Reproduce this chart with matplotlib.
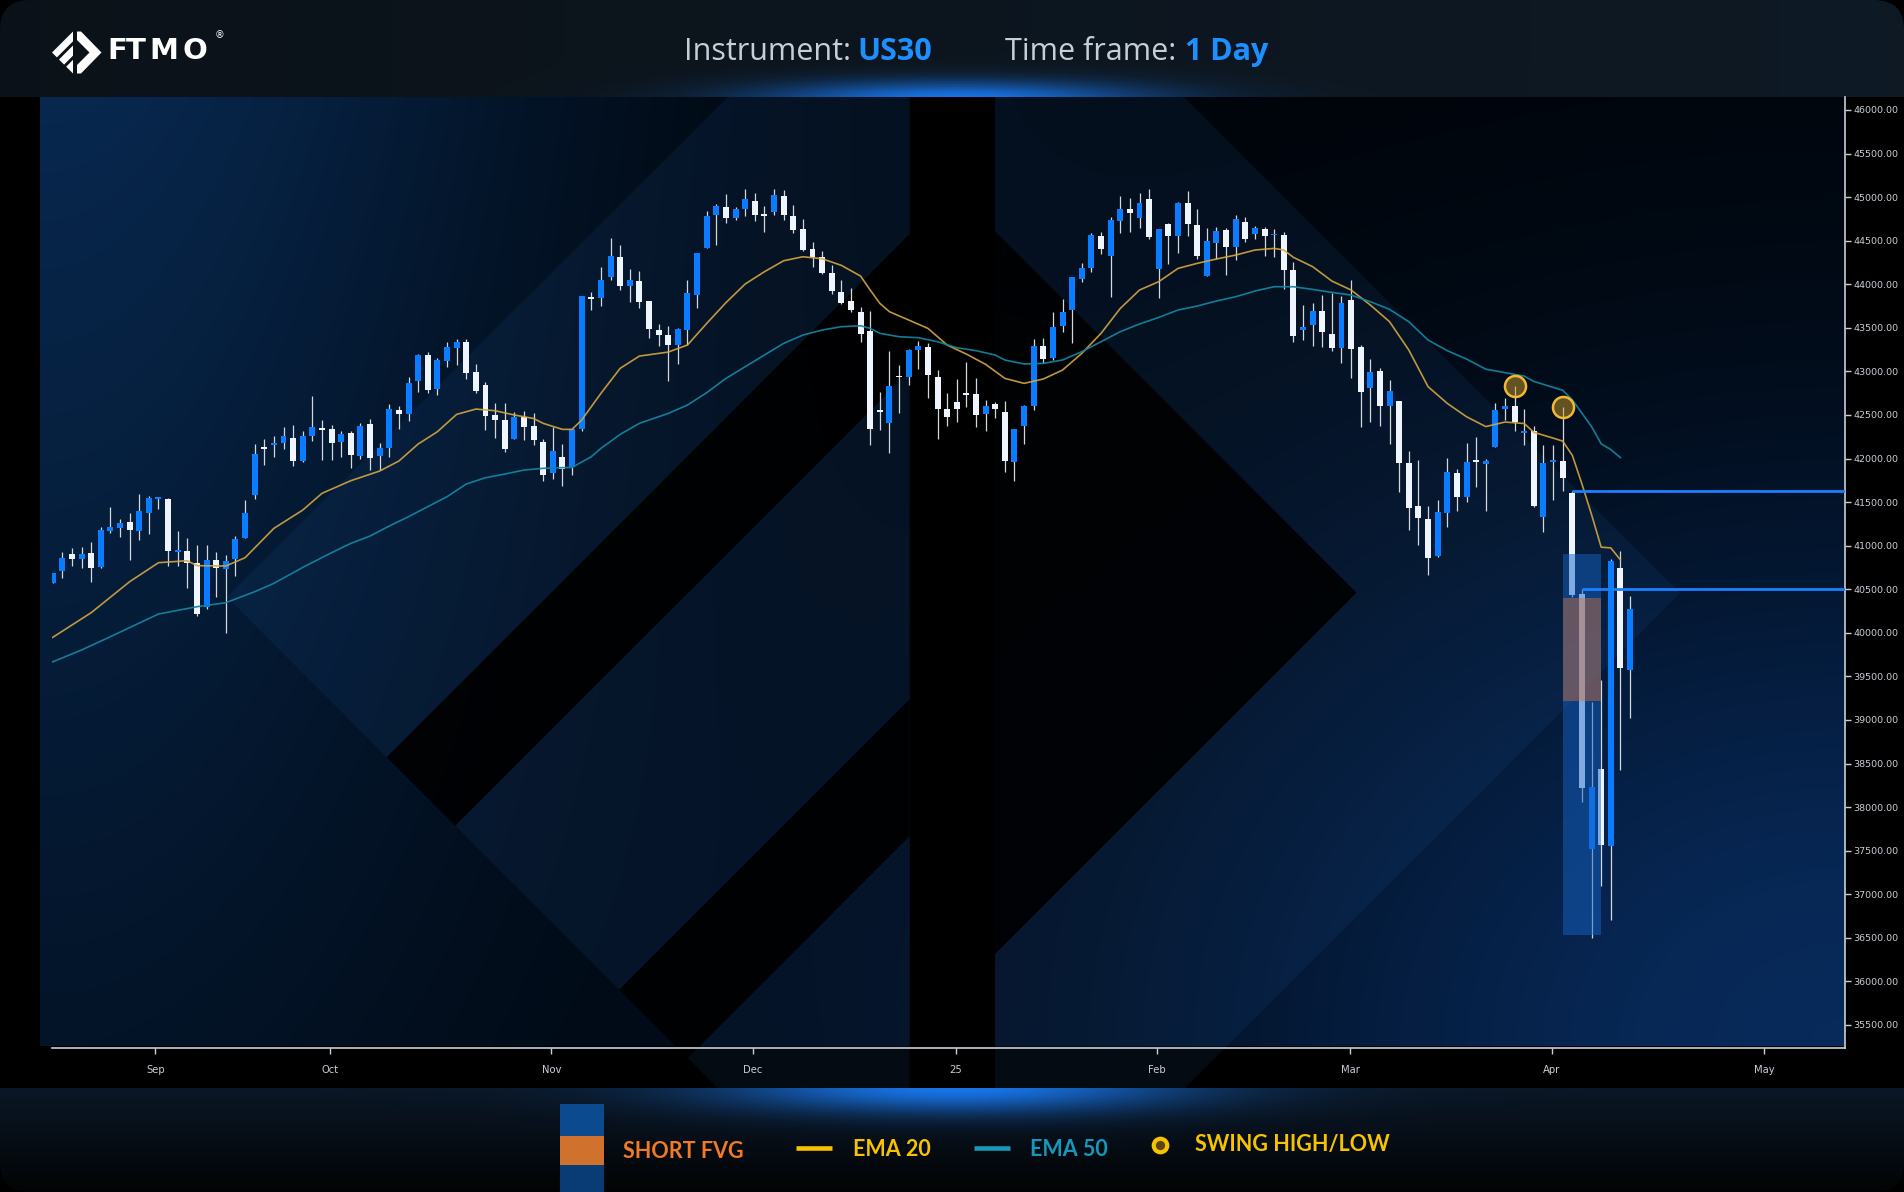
import numpy as np
import matplotlib.pyplot as plt
from matplotlib.patches import Rectangle, Polygon, FancyBboxPatch

# ---- candle data (US30, daily) ----
opens = [40575, 40713, 40904, 40851, 40916, 40755, 41168, 41207, 41272, 41172,
         41379, 41539, 41536, 40931, 40939, 40801, 40300, 40836, 40736, 40847,
         41092, 41585, 42132, 42159, 42182, 42239, 41975, 42262, 42350, 42339,
         42194, 42293, 42033, 42396, 42033, 42125, 42557, 42515, 42890, 43188,
         42802, 43119, 43268, 43337, 42993, 42844, 42500, 42442, 42228, 42477,
         42373, 42189, 41837, 42017, 41899, 42339, 43846, 43846, 44087, 44312,
         43983, 44037, 43807, 43475, 43417, 43306, 43478, 43880, 44420, 44798,
         44886, 44764, 44867, 44955, 44798, 44833, 45012, 44783, 44634, 44404,
         44312, 44129, 43911, 43807, 43681, 43467, 42560, 42412, 42943, 42939,
         43245, 43280, 42936, 42568, 42649, 42741, 42741, 42515, 42626, 42534,
         41964, 42377, 42607, 43291, 43154, 43524, 43708, 44064, 44190, 44553,
         44328, 44729, 44863, 44764, 44978, 44179, 44691, 44557, 44932, 44680,
         44098, 44477, 44622, 44431, 44714, 44580, 44634, 44561, 44565, 44163,
         43478, 43536, 43693, 43429, 43272, 43819, 43280, 42813, 43004, 42606,
         42660, 41949, 41456, 41306, 40886, 41379, 41834, 41563, 41972, 41941,
         42136, 42573, 42603, 42297, 42316, 41333, 41960, 41971, 41602, 40443,
         37522, 38436, 37557, 40742, 39578]
highs = [40690, 40923, 40969, 40981, 41042, 41210, 41444, 41306, 41375, 41593,
         41570, 41560, 41543, 41168, 41088, 41008, 41008, 40927, 40893, 41111,
         41520, 42167, 42224, 42259, 42362, 42385, 42316, 42721, 42442, 42385,
         42320, 42316, 42408, 42454, 42178, 42626, 42603, 42936, 43200, 43222,
         43154, 43337, 43372, 43372, 43085, 42878, 42637, 42637, 42534, 42546,
         42523, 42224, 42362, 42166, 42335, 43865, 43911, 44194, 44530, 44450,
         44178, 44152, 43807, 43544, 43521, 43498, 44048, 44358, 44840, 44921,
         45035, 44886, 45093, 45047, 44898, 45093, 45081, 44909, 44748, 44485,
         44381, 44221, 44048, 43957, 43739, 43693, 42763, 43234, 43073, 43257,
         43349, 43326, 43016, 42752, 42913, 43108, 42924, 42672, 42653, 42660,
         42339, 42614, 43372, 43383, 43682, 43830, 44083, 44244, 44588, 44599,
         44771, 45012, 44989, 45047, 45093, 44634, 44703, 44944, 45070, 44863,
         44645, 44657, 44645, 44794, 44771, 44668, 44657, 44634, 44599, 44255,
         43762, 43785, 43876, 43899, 43865, 44048, 43303, 43142, 43039, 42901,
         42660, 42087, 41983, 41456, 41524, 42006, 41880, 42179, 42247, 41995,
         42638, 42695, 42833, 42569, 42374, 42156, 42156, 42586, 41629, 40500,
         39204, 39459, 40851, 40939, 40421]
lows = [40570, 40625, 40770, 40748, 40587, 40748, 41149, 41103, 40839, 41069,
        41130, 41425, 40770, 40770, 40518, 40197, 40277, 40407, 39994, 40656,
        41092, 41539, 41930, 42021, 42113, 41918, 41956, 42201, 41987, 41987,
        42021, 41895, 41998, 41872, 41872, 42021, 42343, 42434, 42767, 42756,
        42733, 43054, 43077, 42917, 42756, 42331, 42239, 42079, 42228, 42217,
        42159, 41746, 41769, 41688, 41814, 42319, 43708, 43754, 44052, 43937,
        43800, 43731, 43387, 43295, 42893, 43088, 43306, 43731, 44420, 44454,
        44706, 44741, 44787, 44729, 44603, 44798, 44741, 44592, 44385, 44201,
        44121, 43892, 43769, 43685, 43341, 42159, 42331, 42067, 42526, 42848,
        43027, 42698, 42228, 42377, 42423, 42595, 42366, 42320, 42469, 41849,
        41746, 42170, 42561, 43096, 43131, 43456, 43329, 44029, 44144, 44351,
        43857, 44592, 44603, 44649, 44523, 43846, 44236, 44362, 44557, 44293,
        44098, 44293, 44110, 44282, 44488, 44523, 44328, 44316, 43949, 43341,
        43364, 43295, 43283, 43237, 43100, 42928, 42365, 42423, 42377, 42170,
        41620, 41184, 41012, 40668, 40874, 41218, 41402, 41505, 41677, 41402,
        42136, 42446, 42320, 42159, 41448, 41161, 41528, 41629, 40412, 38062,
        36503, 37096, 36701, 38423, 39020]
closes = [40682, 40855, 40851, 40904, 40748, 41180, 41214, 41260, 41184, 41398,
          41547, 41559, 40943, 40943, 40797, 40220, 40836, 40748, 40824, 41077,
          41375, 42052, 42113, 42178, 42259, 41975, 42259, 42362, 42331, 42182,
          42282, 42044, 42373, 42010, 42125, 42568, 42515, 42867, 43188, 42786,
          43131, 43280, 43337, 42985, 42779, 42492, 42442, 42113, 42477, 42366,
          42217, 41814, 42086, 41883, 42335, 43865, 43834, 44048, 44324, 43983,
          44048, 43800, 43490, 43421, 43306, 43486, 43899, 44358, 44783, 44898,
          44764, 44863, 44978, 44798, 44787, 45024, 44798, 44626, 44397, 44316,
          44133, 43926, 43788, 43708, 43433, 42342, 42540, 42832, 42932, 43245,
          43291, 42962, 42572, 42480, 42572, 42729, 42503, 42603, 42572, 41975,
          42339, 42603, 43291, 43142, 43509, 43681, 44083, 44186, 44565, 44404,
          44737, 44863, 44821, 44932, 44546, 44634, 44557, 44932, 44695, 44328,
          44496, 44611, 44431, 44748, 44523, 44645, 44557, 44580, 44167, 43410,
          43509, 43693, 43456, 43272, 43785, 43260, 42767, 42993, 42606, 42775,
          41953, 41436, 41322, 40863, 41387, 41846, 41563, 41960, 41960, 41972,
          42557, 42603, 42423, 42316, 41459, 41949, 41972, 41778, 40434, 38216,
          38229, 37566, 40829, 39600, 40272]

ema20_idx = [0, 4, 8, 11, 14, 15, 18, 20, 23, 26, 28, 31, 34, 36, 38, 40, 42, 44, 46, 48,
             50, 51, 53, 54, 55, 57, 59, 61, 64, 66, 68, 70, 72, 74, 76, 78, 80, 82, 84, 85,
             86, 87, 89, 91, 93, 95, 97, 99, 101, 103, 105, 107, 109, 111, 113, 115, 117, 119, 121, 123,
             125, 127, 128, 129, 131, 133, 135, 137, 139, 141, 143, 145, 147, 149, 151, 153, 154, 156, 157, 158,
             159, 160, 161, 162, 163]
ema20_val = [39948, 40231, 40587, 40805, 40828, 40771, 40767, 40862, 41199, 41409,
             41601, 41746, 41857, 41972, 42167, 42308, 42507, 42568, 42549, 42500,
             42460, 42404, 42335, 42335, 42442, 42748, 43035, 43176, 43222, 43303,
             43551, 43789, 44003, 44144, 44270, 44316, 44293, 44217, 44094, 43934,
             43781, 43685, 43590, 43494, 43303, 43199, 43081, 42920, 42863, 42913,
             43016, 43207, 43437, 43723, 43934, 44030, 44182, 44240, 44290, 44335,
             44393, 44412, 44393, 44309, 44202, 44037, 43934, 43762, 43570, 43245,
             42825, 42633, 42480, 42367, 42419, 42402, 42301, 42235, 42200, 42037,
             41708, 41357, 40983, 40975, 40838]
ema50_idx = [0, 3, 6, 9, 11, 15, 18, 21, 23, 26, 29, 31, 33, 35, 37, 39, 41, 43, 45, 47,
             49, 51, 54, 56, 57, 59, 61, 64, 66, 68, 70, 72, 74, 76, 78, 80, 82, 84, 85, 86,
             88, 90, 92, 94, 96, 98, 99, 101, 103, 105, 107, 109, 111, 113, 115, 117, 119, 121, 123, 125,
             127, 129, 131, 133, 135, 137, 139, 141, 143, 145, 147, 149, 153, 154, 157, 158, 160, 161, 162, 163]
ema50_val = [39667, 39803, 39956, 40112, 40216, 40300, 40346, 40472, 40568, 40751,
             40920, 41027, 41111, 41226, 41333, 41448, 41562, 41708, 41780, 41822,
             41868, 41888, 41899, 42021, 42117, 42277, 42404, 42518, 42614, 42756,
             42920, 43054, 43188, 43322, 43417, 43475, 43513, 43524, 43494, 43437,
             43398, 43387, 43341, 43272, 43238, 43188, 43131, 43085, 43092, 43131,
             43226, 43341, 43456, 43544, 43620, 43704, 43750, 43808, 43857, 43922,
             43972, 43972, 43941, 43907, 43876, 43800, 43712, 43570, 43360, 43238,
             43142, 43026, 42946, 42885, 42784, 42674, 42367, 42169, 42103, 42011]

# short FVG zone
fvg_start, fvg_end = 157, 161
fvg_box_top, fvg_box_bottom = 40905, 36535
fvg_top, fvg_bottom = 40400, 39215
# liquidity levels (price, starting bar)
levels = [41630, 40500]
level_start = [158, 159]
# swing highs
swing_idx = [152, 157]
swing_val = [42833, 42586]

month_labels = ['Sep', 'Oct', 'Nov', 'Dec', '25', 'Feb', 'Mar', 'Apr', 'May']
month_pos = [10.68, 28.86, 51.84, 72.80, 93.89, 114.85, 134.92, 155.88, 177.97]

W, H = 1904, 1192
BLUE = '#0a7cff'
WHITE = '#eef5ff'
GOLD = '#f7c200'
TEAL = '#1797b9'

fig = plt.figure(figsize=(W / 100, H / 100), dpi=100)
fig.patch.set_facecolor('black')

# background layer in pixel coordinates
bg = fig.add_axes([0, 0, 1, 1], zorder=0)
bg.set_xlim(0, W)
bg.set_ylim(H, 0)
bg.axis('off')

# header band with glow
hx = np.linspace(0, W, 600)[None, :]
hy = np.linspace(0, 97, 60)[:, None]
hdr = np.ones((60, 600, 3)) * np.array([0.045, 0.07, 0.095])
hdr = hdr + (hx / W)[..., None] * np.array([0.01, 0.03, 0.05])
g = np.exp(-(((hx - 955) / 190) ** 2 + ((hy - 100) / 18) ** 2))[..., None]
hdr = hdr * (1 - 0.9 * g) + 0.9 * g * np.array([0.1, 0.5, 1.0])
clip_top = FancyBboxPatch((0, 0), W, 160, boxstyle='round,pad=0,rounding_size=30',
                          facecolor='none', edgecolor='none')
bg.add_patch(clip_top)
im = bg.imshow(np.clip(hdr, 0, 1), extent=(0, W, 97, 0), aspect='auto', zorder=1)
im.set_clip_path(clip_top)

# footer band with glow
fy = np.linspace(1088, H, 60)[:, None]
fx = np.linspace(0, W, 600)[None, :]
t = ((fy - 1088) / (H - 1088))[..., None]
ftr = np.array([0.04, 0.09, 0.15]) * (1 - t) + np.array([0.01, 0.015, 0.02]) * t
ftr = np.broadcast_to(ftr, (60, 600, 3)).copy()
g = np.exp(-(((fx - 955) / 230) ** 2 + ((fy - 1086) / 26) ** 2))[..., None]
ftr = ftr * (1 - 0.9 * g) + 0.9 * g * np.array([0.1, 0.5, 1.0])
clip_bot = FancyBboxPatch((0, 1040), W, H - 1040, boxstyle='round,pad=0,rounding_size=30',
                          facecolor='none', edgecolor='none')
bg.add_patch(clip_bot)
im = bg.imshow(np.clip(ftr, 0, 1), extent=(0, W, H, 1088), aspect='auto', zorder=1)
im.set_clip_path(clip_bot)

# chart panel gradient
u = np.linspace(0, 1, 400)[None, :]
v = np.linspace(0, 1, 220)[:, None]
wl = np.exp(-(u / 0.30) ** 2) * (1.0 - 0.55 * v)
wr = np.exp(-(((1 - u) / 0.40) ** 2 + ((1 - v) / 0.60) ** 2))
panel = (np.array([0.0, 0.015, 0.035])
         + wl[..., None] * np.array([0.03, 0.14, 0.27])
         + wr[..., None] * np.array([0.03, 0.15, 0.32]))
bg.imshow(np.clip(panel, 0, 1), extent=(40, 1845, 1046, 97), aspect='auto',
          zorder=1, interpolation='bilinear')

# big logo shapes behind the chart
tint = dict(facecolor='#2a6cc0', alpha=0.10, lw=0, zorder=2)
dark = dict(facecolor='black', alpha=0.88, lw=0, zorder=2)
bg.add_patch(Polygon([(227, 597), (727.5, 97), (909.5, 97), (909.5, 234.4), (386.8, 757.2)], **tint))
bg.add_patch(Polygon([(386.8, 757.2), (909.5, 234.4), (909.5, 371.5), (455.3, 825.7)], **dark))
bg.add_patch(Polygon([(455.3, 825.7), (909.5, 371.5), (909.5, 699.5), (619.3, 989.7)], **tint))
bg.add_patch(Polygon([(619.3, 989.7), (909.5, 699.5), (909.5, 836.5), (687.8, 1058.2)], **dark))
bg.add_patch(Polygon([(687.8, 1058.2), (909.5, 836.5), (909.5, 1088), (717.6, 1088)], **tint))
bg.add_patch(Polygon([(994.5, 97), (1183.8, 97), (1679.9, 593.1), (1185, 1088), (994.5, 1088)], **tint))
bg.add_patch(Polygon([(994.5, 230.7), (1356.4, 592.6), (994.5, 954.5)], **dark))
bg.add_patch(Rectangle((909.5, 97), 85, 991, facecolor='black', lw=0, zorder=3))

# FTMO logo
logo = dict(facecolor='white', lw=0, zorder=4)
bg.add_patch(Polygon([(52, 52.5), (73, 31.5), (73, 41.3), (56.9, 57.4)], **logo))
bg.add_patch(Polygon([(59, 59.5), (73, 45.5), (73, 55.6), (64.1, 64.6)], **logo))
bg.add_patch(Polygon([(66.2, 66.7), (73, 59.8), (73, 73.5)], **logo))
bg.add_patch(Polygon([(77, 31.5), (81, 31.5), (101.5, 52.5), (81, 73.5), (77, 73.5),
                      (77, 65), (89.5, 52.5), (77, 40)], **logo))
for ch, xl in zip('FTMO', [107, 126, 149, 182]):
    bg.text(xl, 51, ch, color='white', fontsize=21, fontweight='bold', family='DejaVu Sans',
            ha='left', va='center', zorder=4)
bg.text(219, 35, '®', color='white', fontsize=7, ha='center', va='center', zorder=4)

# header title
bg.text(851, 52, 'Instrument:', color='#c8ced6', ha='right', va='center',
        family='Open Sans', fontsize=22, zorder=4)
bg.text(857, 52, 'US30', color='#1e8fff', ha='left', va='center',
        family='Open Sans', fontsize=22, fontweight='bold', zorder=4)
bg.text(1176, 52, 'Time frame:', color='#c8ced6', ha='right', va='center',
        family='Open Sans', fontsize=22, zorder=4)
bg.text(1185, 52, '1 Day', color='#1e8fff', ha='left', va='center',
        family='Open Sans', fontsize=22, fontweight='bold', zorder=4)

# legend at the bottom
bg.add_patch(Rectangle((560, 1104), 44, 32, facecolor='#0b4a8e', lw=0, zorder=4))
bg.add_patch(Rectangle((560, 1136), 44, 29, facecolor='#d0722e', lw=0, zorder=4))
bg.add_patch(Rectangle((560, 1165), 44, 27, facecolor='#093c75', lw=0, zorder=4))
lfont = dict(family='Lato', fontsize=15.5, fontweight='bold', va='center', ha='left', zorder=4)
bg.text(623, 1151, 'SHORT FVG', color='#f27a24', **lfont)
bg.plot([796, 832], [1148, 1148], color=GOLD, lw=3.3, solid_capstyle='butt', zorder=4)
bg.text(853, 1149, 'EMA 20', color=GOLD, **lfont)
bg.plot([974, 1010], [1148, 1148], color=TEAL, lw=3.3, solid_capstyle='butt', zorder=4)
bg.text(1030, 1149, 'EMA 50', color=TEAL, **lfont)
bg.scatter([1160], [1145], s=95, facecolor='#5a4510', edgecolor=GOLD, linewidth=3, zorder=4)
bg.text(1195, 1145, 'SWING HIGH/LOW', color=GOLD, **lfont)

# ---- price chart ----
ax = fig.add_axes([52 / W, 1 - 1048 / H, (1845 - 52) / W, (1048 - 97) / H], zorder=1)
ax.patch.set_alpha(0)

x = np.arange(len(opens))
o = np.array(opens)
c = np.array(closes)
up = c >= o
colors = np.where(up, BLUE, WHITE)

ax.vlines(x, lows, highs, color='#d3d8df', lw=0.9, zorder=3)
body_h = np.maximum(np.abs(c - o), 18)
ax.bar(x, body_h, bottom=np.minimum(o, c), width=0.62, color=colors, lw=0, zorder=4)

ax.plot(ema20_idx, ema20_val, color='#d4a640', lw=1.2, alpha=0.9, zorder=5)
ax.plot(ema50_idx, ema50_val, color='#14839f', lw=1.2, alpha=0.95, zorder=5)

ax.add_patch(Rectangle((fvg_start, fvg_box_bottom), fvg_end - fvg_start, fvg_box_top - fvg_box_bottom,
                       facecolor='#1462c4', alpha=0.5, lw=0, zorder=6))
ax.add_patch(Rectangle((fvg_start, fvg_bottom), fvg_end - fvg_start, fvg_top - fvg_bottom,
                       facecolor='#d2703c', alpha=0.45, lw=0, zorder=6))

xmax = 186.35
for lv, st in zip(levels, level_start):
    ax.hlines(lv, st, xmax, color='#1a80ff', lw=2, zorder=7)

ax.scatter(swing_idx, swing_val, s=230, facecolor=(0.78, 0.6, 0.15, 0.5),
           edgecolor='#f4b731', linewidth=1.8, zorder=8)

ax.set_xlim(-0.07, xmax)
ax.set_ylim(35236, 46149)

for side in ['left', 'top']:
    ax.spines[side].set_visible(False)
for side in ['bottom', 'right']:
    ax.spines[side].set_color('#c9ced6')
    ax.spines[side].set_linewidth(1.2)

ax.yaxis.tick_right()
yt = np.arange(35500, 46001, 500)
ax.set_yticks(yt)
ax.set_yticklabels([f'{p:.2f}' for p in yt], family='DejaVu Sans')
ax.set_xticks(month_pos)
ax.set_xticklabels(month_labels, family='DejaVu Sans')
ax.tick_params(axis='y', colors='#c9ced6', labelsize=6.8, length=4, width=1, pad=2)
ax.tick_params(axis='x', colors='#c9ced6', labelsize=7.2, length=4, width=1, pad=8)

fig.savefig('out.png', dpi=100, facecolor=fig.get_facecolor())
